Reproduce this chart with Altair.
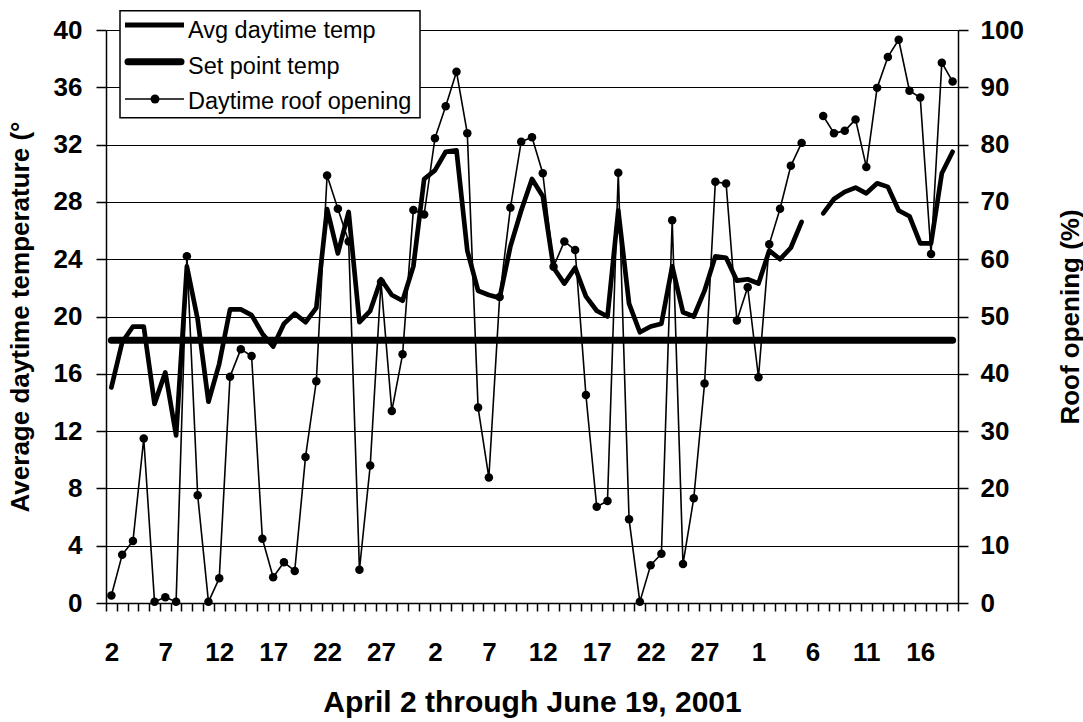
import altair as alt
import pandas as pd

# ---------------- data ----------------
TEMP = [15.05, 18.2, 19.3, 19.3, 13.9, 16.1, 11.7, 23.5, 19.8, 14.05,
        16.7, 20.5, 20.5, 20.1, 18.8, 17.9, 19.5, 20.2, 19.6, 20.6,
        27.5, 24.4, 27.3, 19.6, 20.4, 22.6, 21.5, 21.1, 23.5, 29.6,
        30.2, 31.5, 31.6, 24.6, 21.8, 21.5, 21.3, 24.9, 27.4, 29.6,
        28.4, 23.4, 22.3, 23.4, 21.4, 20.4, 20.0, 27.4, 20.9, 18.9,
        19.3, 19.5, 23.5, 20.3, 20.0, 21.8, 24.2, 24.1, 22.5, 22.6,
        22.3, 24.6, 24.0, 24.8, 26.6, None, 27.2, 28.2, 28.7, 29.0,
        28.6, 29.3, 29.05, 27.4, 27.0, 25.1, 25.1, 30.0, 31.5]

ROOF = [1.3, 8.4, 10.8, 28.7, 0.2, 1.0, 0.2, 60.5, 18.8, 0.2,
        4.3, 39.5, 44.3, 43.1, 11.2, 4.5, 7.1, 5.6, 25.5, 38.7,
        74.6, 68.8, 63.1, 5.8, 24.0, 56.0, 33.5, 43.4, 68.6, 67.8,
        81.1, 86.7, 92.7, 82.0, 34.1, 21.9, 53.4, 69.0, 80.5, 81.3,
        75.0, 58.7, 63.1, 61.6, 36.3, 16.8, 17.8, 75.1, 14.6, 0.2,
        6.6, 8.6, 66.8, 6.8, 18.3, 38.3, 73.5, 73.2, 49.3, 55.1,
        39.4, 62.6, 68.8, 76.3, 80.3, None, 85.0, 82.0, 82.4, 84.4,
        76.1, 89.9, 95.3, 98.3, 89.4, 88.2, 60.9, 94.3, 91.0]

SET_POINT = 18.35

DAY_LABELS = ["2", "7", "12", "17", "22", "27", "2", "7", "12", "17",
              "22", "27", "1", "6", "11", "16"]
LEGEND_LABELS = ["Avg daytime temp", "Set point temp", "Daytime roof opening"]
X_TITLE = "April 2 through June 19, 2001"
Y_TITLE = "Average daytime temperature (°"
Y2_TITLE = "Roof opening (%)"

# ---------------- tables ----------------
n = len(TEMP)
gaps = [i for i, v in enumerate(TEMP) if v is None]
df = pd.DataFrame({
    "day": list(range(n)),
    "temp": TEMP,
    "roof": ROOF,
    "seg": [sum(1 for g in gaps if g < i) for i in range(n)],
})
temp_df = df[df["temp"].notna()]
roof_df = df[df["roof"].notna()]
set_df = pd.DataFrame({"day": [0], "day2": [n - 1], "temp": [SET_POINT]})

W, H = 852, 573
FONT = "Liberation Sans"

label_js = "[" + ",".join("'%s'" % s for s in DAY_LABELS) + "]"
x_axis = alt.Axis(
    values=[i - 0.5 for i in range(n + 1)],
    labelExpr="((datum.value+0.5)%5==0 && (datum.value+0.5)/5<" + str(len(DAY_LABELS)) +
              ") ? " + label_js + "[(datum.value+0.5)/5] : ''",
    labelOffset=W / n / 2,
    labelOverlap=False, labelFlush=False, labelBound=False,
    grid=False, tickSize=8, tickWidth=1.5, tickColor="black",
    domainColor="black", domainWidth=1.5,
    labelFont=FONT, labelFontSize=26, labelFontWeight="bold", labelColor="black",
    labelPadding=28,
    title=X_TITLE, titleFont=FONT, titleFontSize=30, titleFontWeight="bold",
    titleColor="black", titleY=108, titleBaseline="alphabetic",
)
X = alt.X("day:Q", scale=alt.Scale(domain=[-0.5, n - 0.5], nice=False, zero=False),
          axis=x_axis)

y_axis = alt.Axis(
    values=list(range(0, 41, 4)), grid=True, gridColor="black", gridWidth=1,
    domainColor="black", domainWidth=1.5, tickColor="black", tickWidth=1.5, tickSize=10,
    labelFont=FONT, labelFontSize=26, labelFontWeight="bold", labelColor="black",
    labelPadding=14,
    title=Y_TITLE, titleFont=FONT, titleFontSize=26, titleFontWeight="bold",
    titleColor="black", titleX=-86, titleY=H / 2, titleAngle=-90,
    titleAlign="center", titleBaseline="middle",
)
Y = alt.Y("temp:Q", scale=alt.Scale(domain=[0, 40], nice=False), axis=y_axis)

y2_axis = alt.Axis(
    orient="right", values=list(range(0, 101, 10)), grid=False,
    domainColor="black", domainWidth=1.5, tickColor="black", tickWidth=1.5, tickSize=10,
    labelFont=FONT, labelFontSize=26, labelFontWeight="bold", labelColor="black",
    labelPadding=12,
    title=Y2_TITLE, titleFont=FONT, titleFontSize=26, titleFontWeight="bold",
    titleColor="black", titleX=112, titleY=H / 2, titleAngle=-90,
    titleAlign="center", titleBaseline="middle",
)
Y2 = alt.Y("roof:Q", scale=alt.Scale(domain=[0, 100], nice=False), axis=y2_axis)

temp_line = alt.Chart(temp_df).mark_line(
    color="black", strokeWidth=4.7, strokeJoin="round", strokeCap="round"
).encode(x=X, y=Y, detail="seg:N")

set_line = alt.Chart(set_df).mark_rule(
    color="black", strokeWidth=7, strokeCap="round"
).encode(x=X, x2="day2:Q", y=Y)

left = alt.layer(temp_line, set_line)

roof_line = alt.Chart(roof_df).mark_line(
    color="black", strokeWidth=1.6, strokeJoin="round"
).encode(x=X, y=Y2, detail="seg:N")
roof_pts = alt.Chart(roof_df).mark_point(
    filled=True, color="black", size=72, opacity=1
).encode(x=X, y=Y2)

right = alt.layer(roof_line, roof_pts)

# ---------------- legend (drawn box) ----------------
one = pd.DataFrame({"k": [0]})
leg_box = alt.Chart(one).mark_rect(
    fill="white", stroke="black", strokeWidth=1.5
).encode(x=alt.value(14), x2=alt.value(314), y=alt.value(-19.3), y2=alt.value(87.7))

leg_l1 = alt.Chart(one).mark_rule(color="black", strokeWidth=5).encode(
    x=alt.value(19), x2=alt.value(78), y=alt.value(-5))
leg_l2 = alt.Chart(one).mark_rule(color="black", strokeWidth=7, strokeCap="round").encode(
    x=alt.value(22), x2=alt.value(75), y=alt.value(31.7))
leg_l3 = alt.Chart(one).mark_rule(color="black", strokeWidth=1.5).encode(
    x=alt.value(19), x2=alt.value(78), y=alt.value(69))
leg_dot = alt.Chart(one).mark_point(filled=True, color="black", size=80, opacity=1).encode(
    x=alt.value(49), y=alt.value(69))

leg_texts = []
for lab, yb in zip(LEGEND_LABELS, [8.3, 44, 79.3]):
    leg_texts.append(
        alt.Chart(pd.DataFrame({"label": [lab]})).mark_text(
            align="left", baseline="alphabetic", font=FONT, fontSize=23.5, color="black"
        ).encode(x=alt.value(82), y=alt.value(yb), text="label:N")
    )

chart = alt.layer(left, right, leg_box, leg_l1, leg_l2, leg_l3, leg_dot, *leg_texts).resolve_scale(
    y="independent"
).properties(
    width=W, height=H,
    padding={"left": 106, "top": 30, "right": 125, "bottom": 119},
    autosize=alt.AutoSizeParams(type="none"),
    background="white",
).configure_view(strokeWidth=0)

chart.save("out.html", embed_options={"renderer": "svg", "actions": False})
